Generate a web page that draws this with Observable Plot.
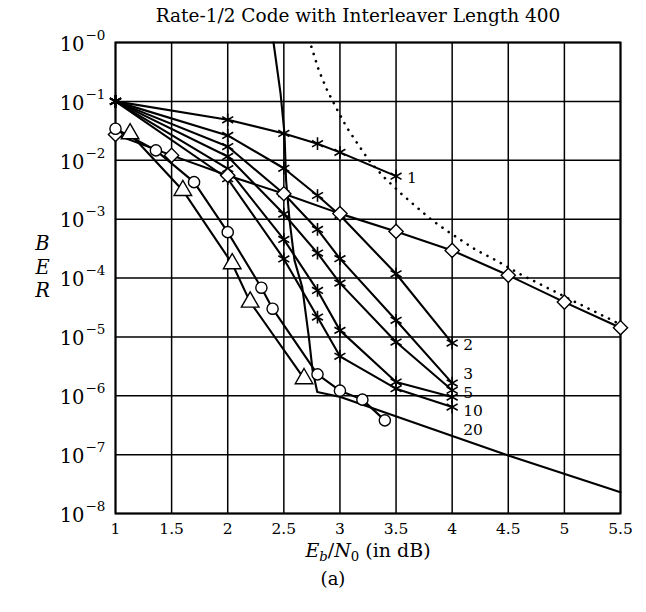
<!DOCTYPE html>
<html>
<head>
<meta charset="utf-8">
<script src="https://cdn.jsdelivr.net/npm/d3@7"></script>
<script src="https://cdn.jsdelivr.net/npm/@observablehq/plot@0.6"></script>
<style>
  body { margin: 0; background: #fff; }
  #wrap { position: relative; width: 646px; height: 612px; font-family: "DejaVu Serif", "Liberation Serif", serif; color: #000; }
  #title { position: absolute; top: 5px; left: 358px; transform: translateX(-50%); white-space: nowrap; font-size: 18.5px; }
  #chart { position: absolute; top: 30px; left: 0; }
  #xlabel { position: absolute; top: 539px; left: 368px; transform: translateX(-50%); white-space: nowrap; font-size: 19px; }
  #xlabel sub { font-size: 0.7em; vertical-align: -0.3em; line-height: 0; }
  #sub { position: absolute; top: 568px; left: 333px; transform: translateX(-50%); font-size: 18px; }
</style>
</head>
<body>
<div id="wrap">
  <div id="title">Rate-1/2 Code with Interleaver Length 400</div>
  <div id="chart"></div>
  <div id="xlabel"><i>E<sub>b</sub></i>/<i>N</i><sub>0</sub> (in dB)</div>
  <div id="sub">(a)</div>
</div>
<script>
// Eb/N0 points (dB) simulated for the iterative decoder
const snr = [1, 2, 2.5, 2.8, 3, 3.5, 4];
const iterations = [1, 2, 3, 5, 10, 20];
const berIter1  = [0.1, 0.0487, 0.0285, 0.0191, 0.0136, 0.00537];
const berIter2  = [0.1, 0.0264, 0.00731, 0.00252, 0.00116, 1.18e-4, 7.85e-6];
const berIter3  = [0.1, 0.0171, 0.0027, 6.68e-4, 2.13e-4, 1.91e-5, 1.64e-6];
const berIter5  = [0.1, 0.0116, 0.00122, 2.65e-4, 8.19e-5, 8.16e-6, 1.24e-6];
const berIter10 = [0.1, 0.00718, 4.52e-4, 6.15e-5, 1.29e-5, 1.71e-6, 9.5e-7];
const berIter20 = [0.1, 0.00485, 2.11e-4, 2.17e-5, 4.67e-6, 1.32e-6, 6.43e-7];

// diamond curve
const diamondSnr = [1, 1.5, 2, 2.5, 3, 3.5, 4, 4.5, 5, 5.5];
const diamondBer = [0.0274, 0.0121, 0.00552, 0.0027, 0.00124, 6.18e-4, 2.94e-4, 1.11e-4, 3.9e-5, 1.43e-5];

// circle curve
const circleSnr = [1, 1.36, 1.7, 2, 2.3, 2.4, 2.8, 3, 3.2, 3.4];
const circleBer = [0.0343, 0.0147, 0.00425, 6.01e-4, 6.84e-5, 3.01e-5, 2.31e-6, 1.22e-6, 8.59e-7, 3.82e-7];

// triangle curve
const triangleSnr = [1.13, 1.6, 2.04, 2.2, 2.68];
const triangleBer = [0.0282, 0.00307, 1.75e-4, 3.9e-5, 1.95e-6];

// bound without markers: waterfall then error floor
const boundSnr = [2.408, 2.471, 2.506, 2.52, 2.551, 2.595, 2.664, 2.723, 2.756, 2.798, 3.005, 4.5, 5.5];
const boundBer = [1.0, 0.135, 0.0282, 0.00454, 9.5e-4, 1.99e-4, 7.0e-5, 9.9e-6, 2.7e-6, 1.16e-6, 9.5e-7, 9.7e-8, 2.3e-8];

// dotted bound
const dottedSnr = [2.745, 2.812, 2.887, 2.976, 3.059, 3.148, 3.258, 3.406, 3.546, 3.683, 3.823, 3.971, 4.209, 4.402, 4.61, 4.788, 5.1, 5.397, 5.5];
const dottedBer = [0.85, 0.335, 0.153, 0.0719, 0.0365, 0.0203, 0.00993, 0.00485, 0.0027, 0.0016, 0.00095, 6.01e-4, 3.02e-4, 1.94e-4, 1.15e-4, 7.78e-5, 3.89e-5, 2.04e-5, 1.62e-5];

const xTicks = [1, 1.5, 2, 2.5, 3, 3.5, 4, 4.5, 5, 5.5];
const yExponents = [0, 1, 2, 3, 4, 5, 6, 7, 8];

const yTicks = yExponents.map(k => Math.pow(10, -k));
const zip = (xs, ys, extra = {}) => ys.map((y, i) => ({x: xs[i], y, ...extra}));

const iterSeries = [berIter1, berIter2, berIter3, berIter5, berIter10, berIter20];
const starRows = iterSeries.flatMap((vals, s) => zip(snr, vals, {it: iterations[s]}));
const endRows = iterSeries.map((vals, s) => ({x: snr[vals.length - 1], y: vals[vals.length - 1], it: iterations[s]}));
// vertical nudges that keep the crowded end labels apart
const labelDy = {1: 2, 2: 2, 3: -8.5, 5: 3, 10: 14.5, 20: 23};

const diamondRows = zip(diamondSnr, diamondBer);
const circleRows = zip(circleSnr, circleBer);
const triangleRows = zip(triangleSnr, triangleBer);
const boundRows = zip(boundSnr, boundBer);
const dottedRows = zip(dottedSnr, dottedBer);

const lineStyle = {x: "x", y: "y", stroke: "black", strokeWidth: 2.1};

const chart = Plot.plot({
  width: 646,
  height: 513,
  marginTop: 12,
  marginBottom: 30,
  marginLeft: 115,
  marginRight: 26,
  style: {fontFamily: "DejaVu Serif, Liberation Serif, serif", background: "white", overflow: "visible", color: "black"},
  x: {domain: [1, 5.5], label: null},
  y: {type: "log", domain: [1e-8, 1], label: null},
  marks: [
    Plot.gridX(xTicks, {stroke: "black", strokeOpacity: 1, strokeWidth: 1.5}),
    Plot.gridY(yTicks, {stroke: "black", strokeOpacity: 1, strokeWidth: 1.5}),
    Plot.frame({stroke: "black", strokeWidth: 2}),
    Plot.axisX(xTicks, {tickSize: 0, tickPadding: 9, fontSize: 15.5, label: null, tickFormat: d => String(d)}),
    Plot.axisY(yTicks, {tickSize: 0, tickFormat: () => "", label: null}),
    Plot.text(yTicks, {frameAnchor: "left", y: d => d, text: () => "10", dx: -31, dy: 2, textAnchor: "end", fontSize: 19.5}),
    Plot.text(yTicks, {frameAnchor: "left", y: d => d, text: d => "\u2212" + Math.round(-Math.log10(d)), dx: -30, dy: -7, textAnchor: "start", fontSize: 13.5}),
    Plot.text(["B\nE\nR"], {frameAnchor: "left", dx: -73, dy: -12, fontSize: 19.5, fontStyle: "italic", lineHeight: 1.2, textAnchor: "middle"}),

    Plot.line(dottedRows, {x: "x", y: "y", stroke: "black", strokeWidth: 2.6, strokeDasharray: "0.1,7.5", strokeLinecap: "round"}),
    Plot.line(boundRows, lineStyle),
    Plot.line(diamondRows, lineStyle),
    Plot.line(circleRows, lineStyle),
    Plot.line(triangleRows, lineStyle),
    Plot.line(starRows, {...lineStyle, z: "it"}),

    Plot.dot(starRows, {x: "x", y: "y", symbol: "asterisk", r: 6, stroke: "black", strokeWidth: 1.6}),
    Plot.dot(diamondRows, {x: "x", y: "y", symbol: "diamond2", r: 6.4, stroke: "black", fill: "white", strokeWidth: 1.4}),
    Plot.dot(circleRows, {x: "x", y: "y", symbol: "circle", r: 5.6, stroke: "black", fill: "white", strokeWidth: 1.4}),
    Plot.dot(triangleRows, {x: "x", y: "y", symbol: "triangle2", r: 8.4, stroke: "black", fill: "white", strokeWidth: 1.4}),

    // iteration count beside the last point of each starred curve
    ...endRows.map(r => Plot.text([r], {x: "x", y: "y", text: d => String(d.it), dx: 11, dy: labelDy[r.it], textAnchor: "start", fontSize: 15.5, lineHeight: 0.9}))
  ]
});

document.getElementById("chart").append(chart);
</script>
</body>
</html>
